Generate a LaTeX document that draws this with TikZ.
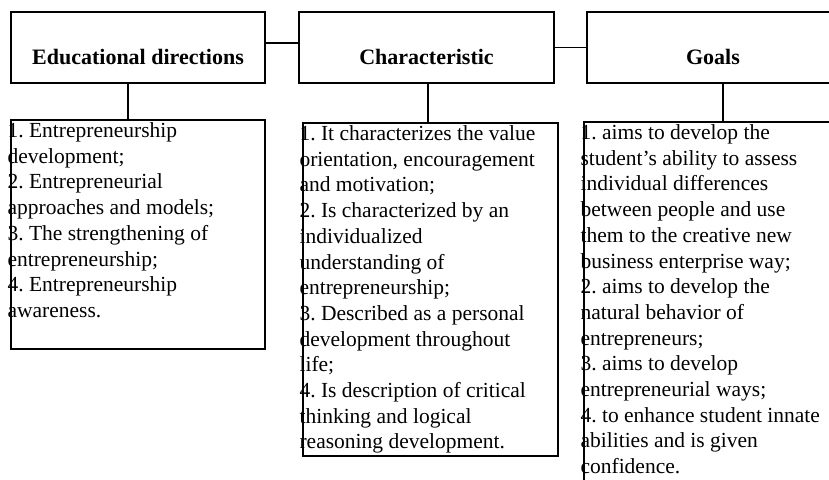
\documentclass[tikz,border=0pt]{standalone}
\usepackage{fontspec}
\setmainfont{Liberation Serif}
\frenchspacing
\begin{document}
\begin{tikzpicture}[x=1pt,y=-1pt,
  head/.style={draw, line width=1.3pt, minimum width=254pt, minimum height=71pt, inner sep=0pt, text height=33pt, text depth=0pt, font=\fontsize{22}{26}\selectfont\bfseries},
  panel/.style={draw, line width=1.3pt, inner sep=0pt},
  body/.style={anchor=north west, inner sep=0pt, align=left, font=\fontsize{21.5}{25.7}\selectfont\frenchspacing},
  link/.style={line width=1.3pt}]
\clip (0,0) rectangle (829,479);
\fill[white] (0,0) rectangle (829,479);
\node[head] (b1) at (138,47.5) {Educational directions};
\node[head, minimum width=255pt] (b2) at (426.5,47.5) {Characteristic};
\node[head, minimum width=252pt] (b3) at (713,47.5) {Goals};
\node[panel, minimum width=254pt, minimum height=229pt] (l1) at (138,234.5) {};
\node[panel, minimum width=255pt, minimum height=333pt] (l2) at (430.5,289.5) {};
\node[panel, minimum width=278pt, minimum height=378pt] (l3) at (723,311) {};
\node[body] (t1) at ([xshift=-3pt]l1.north west) {\strut 1. Entrepreneurship\\ development;\\ 2. Entrepreneurial\\ approaches and models;\\ 3. The strengthening of\\ entrepreneurship;\\ 4. Entrepreneurship\\ awareness.};
\node[body] (t2) at ([xshift=-3pt]l2.north west) {\strut 1. It characterizes the value\\ orientation, encouragement\\ and motivation;\\ 2. Is characterized by an\\ individualized\\ understanding of\\ entrepreneurship;\\ 3. Described as a personal\\ development throughout\\ life;\\ 4. Is description of critical\\ thinking and logical\\ reasoning development.};
\node[body] (t3) at ([xshift=-3pt]l3.north west) {\strut 1. aims to develop the\\ student’s ability to assess\\ individual differences\\ between people and use\\ them to the creative new\\ business enterprise way;\\ 2. aims to develop the\\ natural behavior of\\ entrepreneurs;\\ 3. aims to develop\\ entrepreneurial ways;\\ 4. to enhance student innate\\ abilities and is given\\ confidence.};
\draw[link] ([yshift=4.5pt]b1.east) -- ([yshift=4.5pt]b2.west);
\draw[link] (b2.east) -- (b3.west);
\draw[link] ([xshift=-10pt]b1.south) -- ([xshift=-10pt]l1.north);
\draw[link] ([xshift=1.5pt]b2.south) -- ([xshift=1.5pt]b2.south |- l2.north);
\draw[link] (l3.north |- b3.south) -- (l3.north);
\end{tikzpicture}
\end{document}
